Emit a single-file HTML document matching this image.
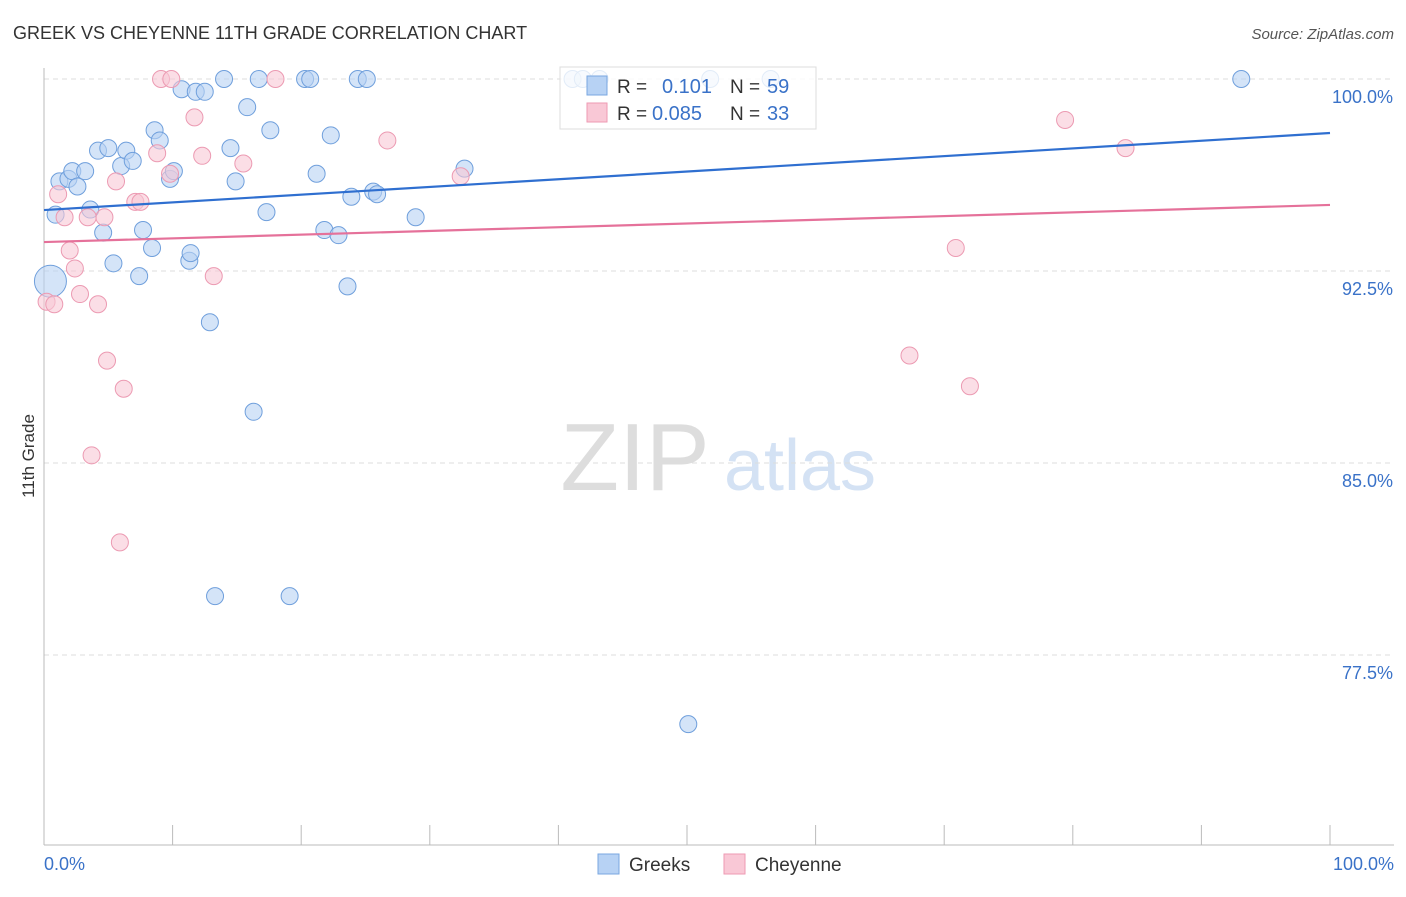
<!DOCTYPE html>
<html><head><meta charset="utf-8">
<style>
body{margin:0;background:#fff;font-family:"Liberation Sans",sans-serif;}
svg text{font-family:"Liberation Sans",sans-serif;}
</style></head>
<body>
<svg id="c" width="1406" height="892" xmlns="http://www.w3.org/2000/svg">
<text x="13" y="39" font-size="18" fill="#333">GREEK VS CHEYENNE 11TH GRADE CORRELATION CHART</text>
<text x="1394" y="39" font-size="15" fill="#555" font-style="italic" text-anchor="end">Source: ZipAtlas.com</text>
<text x="34" y="456" font-size="17" fill="#333" transform="rotate(-90 34 456)" text-anchor="middle">11th Grade</text>
<g><text x="635" y="490" font-size="96" fill="#ddd" font-family="Liberation Serif" text-anchor="middle">ZIP</text><text x="800" y="490" font-size="72" fill="#d4e2f4" text-anchor="middle">atlas</text></g>
<g id="grid"></g><g id="pts"></g><g id="lines"></g>
<g>
<rect x="560" y="67" width="256" height="62" fill="#fff" fill-opacity="0.8" stroke="#ddd"/>
<rect x="587" y="76" width="20" height="19" fill="#b7d2f4" stroke="#7aa7e0"/>
<text x="617" y="93" font-size="19" fill="#333">R = </text><text x="662" y="93" font-size="20" fill="#3a72c8">0.101</text>
<text x="730" y="93" font-size="19" fill="#333">N = </text><text x="767" y="93" font-size="20" fill="#3a72c8">59</text>
<rect x="587" y="103" width="20" height="19" fill="#f9c8d6" stroke="#ee9ab3"/>
<text x="617" y="120" font-size="19" fill="#333">R = </text><text x="652" y="120" font-size="20" fill="#3a72c8">0.085</text>
<text x="730" y="120" font-size="19" fill="#333">N = </text><text x="767" y="120" font-size="20" fill="#3a72c8">33</text>
</g>
<g>
<rect x="598" y="854" width="21" height="20" fill="#b7d2f4" stroke="#7aa7e0"/><text x="629" y="871" font-size="19" fill="#333">Greeks</text>
<rect x="724" y="854" width="21" height="20" fill="#f9c8d6" stroke="#ee9ab3"/><text x="755" y="871" font-size="19" fill="#333">Cheyenne</text>
</g>
<text x="44" y="870" font-size="18" fill="#3a72c8">0.0%</text>
<text x="1394" y="870" font-size="18" fill="#3a72c8" text-anchor="end">100.0%</text>
</svg>
<script>
const yTicks=[100,92.5,85,77.5];
const yTickLabels=["100.0%","92.5%","85.0%","77.5%"];
const blueX=[0.5,0.9,1.2,1.9,2.2,2.6,3.2,4.2,4.6,5.0,5.4,6.0,6.4,6.9,7.4,7.7,8.4,8.6,9.0,9.8,10.1,10.7,11.3,11.4,11.8,12.5,12.9,13.3,14.0,14.5,14.9,15.8,16.3,16.7,17.3,17.6,19.1,20.3,20.7,21.2,21.8,22.3,22.9,23.6,23.9,24.4,25.1,25.6,25.9,28.9,32.7,41.1,43.2,50.1,51.8,56.5,93.1,3.6,41.9];
const blueY=[92.1,94.7,96.0,96.1,96.4,95.8,96.4,97.2,94.0,97.3,92.8,96.6,97.2,96.8,92.3,94.1,93.4,98.0,97.6,96.1,96.4,99.6,92.9,93.2,99.5,99.5,90.5,79.8,100,97.3,96.0,98.9,87.0,100,94.8,98.0,79.8,100,100,96.3,94.1,97.8,93.9,91.9,95.4,100,100,95.6,95.5,94.6,96.5,100,100,74.8,100,100,100,94.9,100];
const pinkX=[0.2,0.8,1.1,1.6,2.0,2.4,2.8,3.4,3.7,4.2,4.7,4.9,5.6,5.9,6.2,7.1,7.5,8.8,9.1,9.9,9.8,11.7,12.3,13.2,15.5,18.0,26.7,32.4,67.3,70.9,72.0,79.4,84.1];
const pinkY=[91.3,91.2,95.5,94.6,93.3,92.6,91.6,94.6,85.3,91.2,94.6,89.0,96.0,81.9,87.9,95.2,95.2,97.1,100,100,96.3,98.5,97.0,92.3,96.7,100,97.6,96.2,89.2,93.4,88.0,98.4,97.3];
const blueSize=[12];
const trendBlue=[94.88,97.89];
const trendPink=[93.63,95.08];
const X=v=>44+v*12.86, Y=v=>79+(100-v)*25.6;
const NS="http://www.w3.org/2000/svg";
function mk(p,t,a){const e=document.createElementNS(NS,t);for(const k in a)e.setAttribute(k,a[k]);p.appendChild(e);return e;}
const g=document.getElementById('grid');
yTicks.forEach((t,i)=>{
 const l=mk(g,'line',{x1:44,x2:1394,y1:Y(t),y2:Y(t),stroke:'#ddd','stroke-dasharray':'5,4'});
 
 
 const tx=mk(g,'text',{x:1393,y:Y(t)+24,'font-size':18,fill:'#3a72c8','text-anchor':'end'});tx.textContent=yTickLabels[i];
 
 
});
mk(g,'line',{x1:44,x2:44,y1:68,y2:845,stroke:'#bbb'});
mk(g,'line',{x1:44,x2:1394,y1:845,y2:845,stroke:'#bbb'});
for(let i=0;i<=10;i++){const t=mk(g,'line',{x1:X(i*10),x2:X(i*10),y1:825,y2:845,stroke:'#bbb'});
 
 }
const p=document.getElementById('pts');
blueX.forEach((x,i)=>{const c=mk(p,'circle',{cx:X(x),cy:Y(blueY[i]),r:i==0?16:8.5,fill:'#b7d2f4','fill-opacity':0.6,stroke:'#6f9fdc','stroke-width':1});
 
 });
pinkX.forEach((x,i)=>{const c=mk(p,'circle',{cx:X(x),cy:Y(pinkY[i]),r:8.5,fill:'#f9c8d6','fill-opacity':0.6,stroke:'#ec9ab2','stroke-width':1});
 
 });
const L=document.getElementById('lines');
const lb=mk(L,'line',{x1:X(0),x2:X(100),y1:Y(trendBlue[0]),y2:Y(trendBlue[1]),stroke:'#2f6fd0','stroke-width':2.2});


const lp=mk(L,'line',{x1:X(0),x2:X(100),y1:Y(trendPink[0]),y2:Y(trendPink[1]),stroke:'#e5719a','stroke-width':2.2});


</script>
</body></html>
